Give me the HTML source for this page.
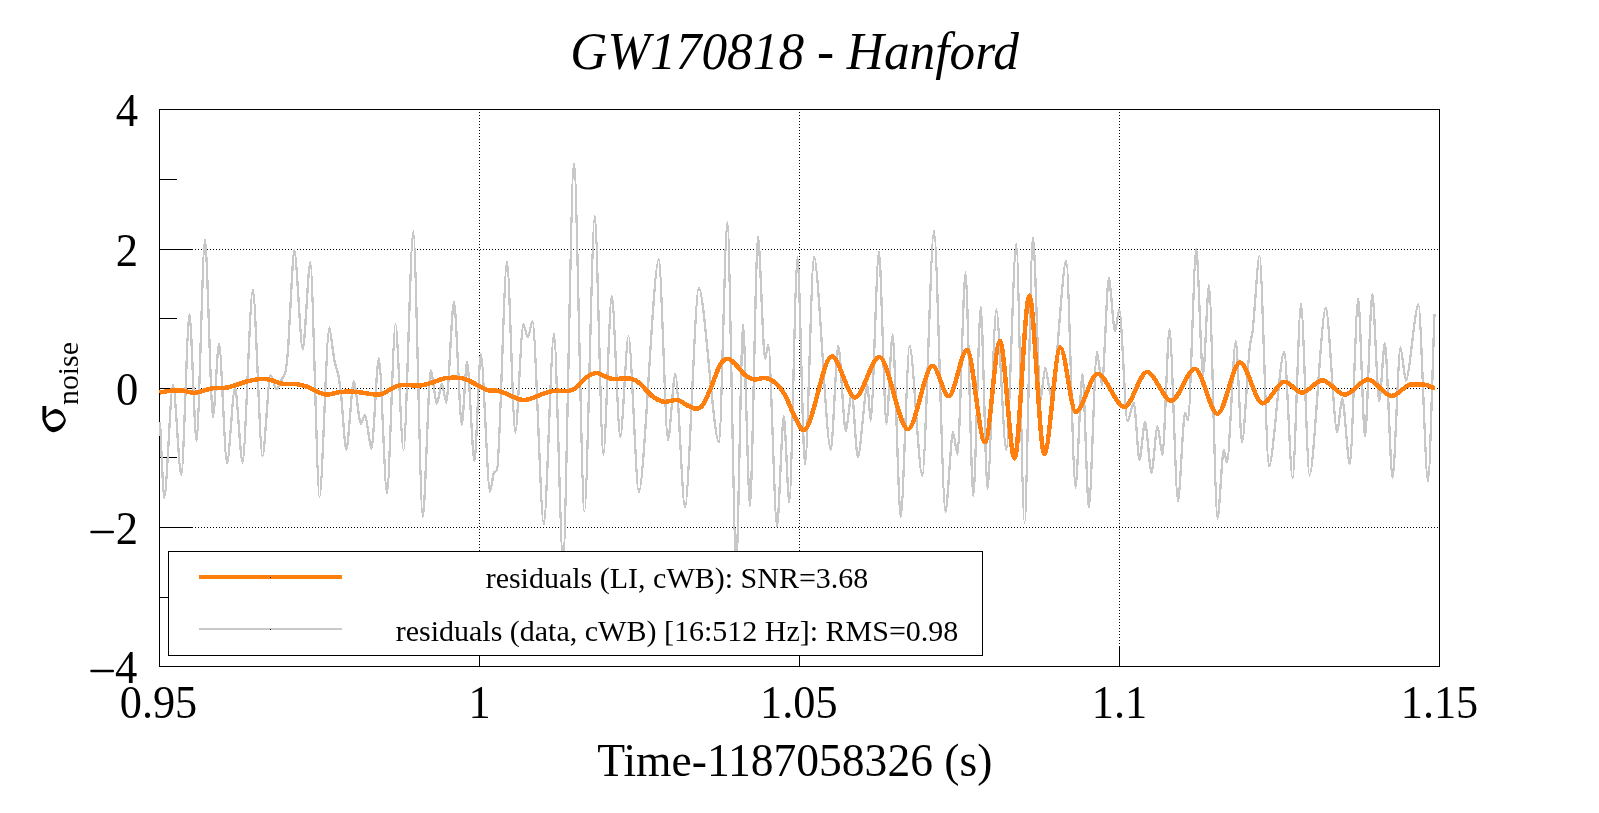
<!DOCTYPE html>
<html>
<head>
<meta charset="utf-8">
<title>GW170818 - Hanford</title>
<style>
html,body{margin:0;padding:0;background:#fff;}
body{width:1599px;height:813px;overflow:hidden;}
svg{display:block;}
text{font-family:"Liberation Serif",serif;fill:#000;}
.t{opacity:0.999;}
</style>
</head>
<body>
<svg width="1599" height="813" viewBox="0 0 1599 813">
<rect x="0" y="0" width="1599" height="813" fill="#ffffff"/>

<!-- frame + ticks -->
<g stroke="#000" stroke-width="1" fill="none" shape-rendering="crispEdges">
<rect x="159.5" y="109.5" width="1280" height="557"/>
<line x1="160" y1="249.5" x2="193" y2="249.5"/>
<line x1="160" y1="388.5" x2="193" y2="388.5"/>
<line x1="160" y1="527.5" x2="193" y2="527.5"/>
<line x1="160" y1="179.5" x2="177" y2="179.5"/>
<line x1="160" y1="318.5" x2="177" y2="318.5"/>
<line x1="160" y1="457.5" x2="177" y2="457.5"/>
<line x1="160" y1="597.5" x2="177" y2="597.5"/>
<line x1="479.5" y1="646" x2="479.5" y2="666"/>
<line x1="799.5" y1="646" x2="799.5" y2="666"/>
<line x1="1119.5" y1="646" x2="1119.5" y2="666"/>
</g>

<!-- grid -->
<g stroke="#000" stroke-width="1" stroke-dasharray="1 2" fill="none" shape-rendering="crispEdges">
<line x1="195" y1="249.5" x2="1439" y2="249.5"/>
<line x1="195" y1="388.5" x2="1439" y2="388.5"/>
<line x1="195" y1="527.5" x2="1439" y2="527.5"/>
<line x1="479.5" y1="112" x2="479.5" y2="645"/>
<line x1="799.5" y1="112" x2="799.5" y2="645"/>
<line x1="1119.5" y1="112" x2="1119.5" y2="645"/>
</g>

<!-- curves -->
<path d="M160.0 422.0C161.2 442.8 163.1 497.5 164.3 497.5C166.7 497.5 170.6 384.5 173.0 384.5C175.3 384.5 179.0 475.0 181.3 475.0C183.6 475.0 187.2 314.3 189.5 314.3C191.4 314.3 194.6 441.3 196.5 441.3C198.8 441.3 202.7 239.3 205.0 239.3C207.2 239.3 210.8 417.0 213.0 417.0C214.7 417.0 217.3 343.5 219.0 343.5C221.2 343.5 224.8 463.3 227.0 463.3C229.2 463.3 232.8 387.5 235.0 387.5C237.1 387.5 240.4 462.5 242.5 462.5C245.3 462.5 250.0 289.5 252.8 289.5C255.5 289.5 259.8 456.3 262.5 456.3C264.7 456.3 268.3 375.0 270.5 375.0C272.2 375.0 274.9 389.4 276.6 389.4C278.1 389.4 280.5 382.0 282.0 379.0C283.0 377.0 284.5 374.9 285.5 371.5C286.2 369.1 287.3 358.1 288.0 350.0C288.6 343.5 289.4 323.1 290.0 314.0C291.2 294.5 293.1 250.0 294.3 250.0C296.6 250.0 300.5 349.5 302.8 349.5C304.9 349.5 308.2 262.0 310.3 262.0C312.8 262.0 317.0 497.0 319.5 497.0C322.2 497.0 326.6 327.5 329.3 327.5C330.3 327.5 332.0 344.4 333.0 351.0C333.4 353.7 334.1 358.9 334.5 361.0C335.6 366.5 337.4 370.4 338.5 376.0C339.2 379.5 340.3 388.2 341.0 394.0C342.5 406.2 344.8 450.0 346.3 450.0C348.4 450.0 351.7 381.3 353.8 381.3C355.7 381.3 358.9 423.8 360.8 423.8C362.0 423.8 363.8 414.5 365.0 414.5C366.8 414.5 369.7 448.8 371.5 448.8C373.5 448.8 376.8 358.0 378.8 358.0C381.1 358.0 384.7 493.0 387.0 493.0C389.3 493.0 393.2 324.3 395.5 324.3C397.7 324.3 401.3 450.0 403.5 450.0C406.2 450.0 410.6 231.3 413.3 231.3C415.9 231.3 420.2 517.5 422.8 517.5C425.0 517.5 428.6 370.0 430.8 370.0C432.4 370.0 435.2 403.8 436.8 403.8C438.2 403.8 440.4 383.8 441.8 383.8C443.0 383.8 445.1 402.5 446.3 402.5C448.4 402.5 451.9 301.3 454.0 301.3C456.1 301.3 459.7 425.0 461.8 425.0C463.2 425.0 465.6 362.0 467.0 362.0C469.1 362.0 472.4 461.3 474.5 461.3C476.2 461.3 479.1 353.8 480.8 353.8C483.3 353.8 487.5 491.8 490.0 491.8C491.1 491.8 492.9 474.0 494.0 472.5C494.8 471.4 496.2 471.1 497.0 470.0C499.8 466.2 504.2 261.5 507.0 261.5C509.3 261.5 513.0 432.5 515.3 432.5C517.5 432.5 521.1 324.3 523.3 324.3C524.5 324.3 526.6 337.5 527.8 337.5C529.1 337.5 531.2 321.3 532.5 321.3C535.6 321.3 540.7 524.5 543.8 524.5C546.6 524.5 551.2 333.8 554.0 333.8C556.5 333.8 560.5 560.0 563.0 560.0C566.0 560.0 571.0 163.8 574.0 163.8C576.9 163.8 581.6 511.3 584.5 511.3C587.3 511.3 592.0 215.8 594.8 215.8C597.1 215.8 601.0 455.0 603.3 455.0C605.6 455.0 609.5 295.8 611.8 295.8C614.1 295.8 618.0 437.0 620.3 437.0C622.6 437.0 626.2 336.3 628.5 336.3C631.3 336.3 636.0 492.0 638.8 492.0C644.3 492.0 653.3 258.8 658.8 258.8C661.3 258.8 665.5 440.0 668.0 440.0C670.0 440.0 673.3 373.8 675.3 373.8C678.0 373.8 682.3 507.5 685.0 507.5C688.8 507.5 695.0 287.5 698.8 287.5C704.4 287.5 713.4 442.5 719.0 442.5C721.3 442.5 725.0 222.5 727.3 222.5C729.8 222.5 733.8 565.0 736.3 565.0C738.1 565.0 741.2 324.5 743.0 324.5C744.9 324.5 748.1 506.3 750.0 506.3C752.2 506.3 755.8 236.3 758.0 236.3C759.9 236.3 763.1 358.8 765.0 358.8C765.9 358.8 767.4 344.5 768.3 344.5C770.7 344.5 774.6 526.3 777.0 526.3C778.9 526.3 781.9 416.3 783.8 416.3C785.3 416.3 787.8 502.5 789.3 502.5C791.6 502.5 795.2 257.0 797.5 257.0C799.6 257.0 802.9 465.0 805.0 465.0C807.5 465.0 811.5 256.8 814.0 256.8C818.6 256.8 826.2 450.0 830.8 450.0C832.9 450.0 836.2 345.6 838.3 345.6C840.3 345.6 843.7 431.0 845.7 431.0C847.4 431.0 850.1 392.7 851.8 392.7C853.4 392.7 856.1 457.4 857.8 457.4C860.5 457.4 864.8 385.0 867.5 385.0C868.4 385.0 869.7 420.7 870.6 420.7C872.9 420.7 876.7 251.3 879.0 251.3C881.0 251.3 884.4 424.0 886.4 424.0C888.1 424.0 890.9 334.5 892.6 334.5C894.8 334.5 898.5 517.5 900.7 517.5C903.1 517.5 907.2 345.6 909.6 345.6C913.1 345.6 918.8 476.0 922.3 476.0C925.5 476.0 930.8 230.7 934.0 230.7C937.2 230.7 942.3 512.0 945.5 512.0C947.6 512.0 950.9 432.0 953.0 432.0C954.2 432.0 956.3 454.5 957.5 454.5C959.7 454.5 963.3 272.5 965.5 272.5C967.6 272.5 971.2 496.3 973.3 496.3C975.4 496.3 978.7 307.0 980.8 307.0C982.6 307.0 985.7 488.8 987.5 488.8C989.9 488.8 993.9 309.5 996.3 309.5C999.0 309.5 1003.5 450.0 1006.3 450.0C1009.0 450.0 1013.5 243.8 1016.3 243.8C1018.6 243.8 1022.2 522.5 1024.5 522.5C1026.8 522.5 1030.7 237.5 1033.0 237.5C1035.1 237.5 1038.4 400.0 1040.5 400.0C1041.8 400.0 1043.9 367.5 1045.2 367.5C1046.9 367.5 1049.8 398.0 1051.5 398.0C1055.6 398.0 1062.2 260.5 1066.3 260.5C1068.8 260.5 1073.0 487.5 1075.5 487.5C1077.4 487.5 1080.6 373.8 1082.5 373.8C1084.2 373.8 1087.1 507.5 1088.8 507.5C1091.1 507.5 1094.7 352.0 1097.0 352.0C1098.4 352.0 1100.6 385.0 1102.0 385.0C1103.9 385.0 1106.9 278.0 1108.8 278.0C1110.5 278.0 1113.3 331.3 1115.0 331.3C1116.2 331.3 1118.1 309.5 1119.3 309.5C1121.6 309.5 1125.2 421.3 1127.5 421.3C1129.2 421.3 1132.1 402.5 1133.8 402.5C1135.4 402.5 1137.9 460.0 1139.5 460.0C1141.0 460.0 1143.5 422.0 1145.0 422.0C1146.8 422.0 1149.7 472.5 1151.5 472.5C1153.2 472.5 1155.8 426.3 1157.5 426.3C1158.9 426.3 1161.1 455.0 1162.5 455.0C1164.4 455.0 1167.6 328.8 1169.5 328.8C1171.8 328.8 1175.7 501.3 1178.0 501.3C1179.9 501.3 1183.1 412.5 1185.0 412.5C1185.8 412.5 1187.2 420.0 1188.0 420.0C1190.3 420.0 1194.0 248.8 1196.3 248.8C1198.1 248.8 1201.2 375.0 1203.0 375.0C1204.7 375.0 1207.3 285.0 1209.0 285.0C1211.3 285.0 1215.2 518.8 1217.5 518.8C1219.2 518.8 1222.1 450.0 1223.8 450.0C1224.7 450.0 1226.1 462.5 1227.0 462.5C1229.4 462.5 1233.4 341.3 1235.8 341.3C1237.5 341.3 1240.3 442.0 1242.0 442.0C1244.2 442.0 1247.8 360.0 1250.0 345.0C1250.7 340.3 1251.8 336.6 1252.5 332.0C1254.4 319.2 1257.6 255.9 1259.5 255.9C1262.1 255.9 1266.4 466.4 1269.0 466.4C1273.2 466.4 1280.0 351.5 1284.2 351.5C1286.5 351.5 1290.3 478.3 1292.6 478.3C1294.9 478.3 1298.7 304.0 1301.0 304.0C1303.3 304.0 1307.2 475.5 1309.5 475.5C1314.0 475.5 1321.3 307.8 1325.8 307.8C1328.9 307.8 1334.1 432.0 1337.2 432.0C1338.6 432.0 1340.8 398.0 1342.2 398.0C1344.3 398.0 1347.7 464.5 1349.8 464.5C1352.1 464.5 1355.9 298.6 1358.2 298.6C1360.1 298.6 1363.1 436.7 1365.0 436.7C1367.0 436.7 1370.3 294.0 1372.3 294.0C1374.2 294.0 1377.3 401.6 1379.2 401.6C1380.8 401.6 1383.3 342.9 1384.9 342.9C1387.0 342.9 1390.4 477.8 1392.5 477.8C1394.7 477.8 1398.3 347.4 1400.5 347.4C1402.0 347.4 1404.4 380.6 1405.9 380.6C1409.3 380.6 1415.0 304.4 1418.4 304.4C1421.0 304.4 1425.4 481.7 1428.0 481.7C1429.8 481.7 1432.7 360.1 1434.5 314.0" fill="none" stroke="#c8c8c8" stroke-width="2.3" stroke-linejoin="round" shape-rendering="crispEdges"/>
<path d="M159.5 392.5C161.8 392.2 169.2 390.8 173.0 390.5C176.8 390.2 178.8 390.1 182.5 390.5C186.2 390.9 190.0 393.2 195.0 392.8C200.0 392.4 207.1 389.2 212.5 388.3C217.9 387.4 221.7 388.7 227.5 387.5C233.3 386.3 241.7 382.8 247.5 381.3C253.3 379.9 258.3 378.9 262.5 378.8C266.7 378.7 269.2 379.7 272.5 380.5C275.8 381.3 278.3 383.2 282.5 383.8C286.7 384.4 293.3 383.8 297.5 384.3C301.7 384.8 302.9 385.1 307.5 386.8C312.1 388.5 319.6 393.6 325.0 394.5C330.4 395.4 335.0 392.4 340.0 392.0C345.0 391.6 349.2 391.4 355.0 391.8C360.8 392.2 370.4 394.2 375.0 394.5C379.6 394.8 378.5 395.3 382.5 393.8C386.5 392.3 392.6 386.9 398.8 385.5C405.1 384.1 414.4 386.0 420.0 385.5C425.6 385.0 428.3 383.7 432.5 382.5C436.7 381.3 440.0 379.0 445.0 378.3C450.0 377.6 457.9 377.6 462.5 378.3C467.1 379.0 468.3 380.6 472.5 382.5C476.7 384.4 482.9 388.5 487.5 390.0C492.1 391.5 494.6 389.7 500.0 391.3C505.4 392.9 515.0 398.2 520.0 399.5C525.0 400.8 525.8 399.9 530.0 398.8C534.2 397.7 540.8 394.3 545.0 393.0C549.2 391.7 551.0 391.2 555.0 390.8C559.0 390.4 565.2 391.4 568.8 390.8C572.3 390.2 573.4 389.7 576.3 387.5C579.2 385.3 583.0 379.9 586.3 377.5C589.6 375.1 593.2 373.2 596.3 373.0C599.4 372.8 602.3 375.3 605.0 376.3C607.7 377.3 608.1 378.4 612.5 378.8C616.9 379.2 626.7 378.0 631.3 378.8C635.9 379.6 636.5 380.9 640.0 383.8C643.5 386.7 648.5 393.3 652.5 396.3C656.5 399.3 659.6 401.2 663.8 401.8C668.0 402.4 673.5 399.4 677.5 400.0C681.5 400.6 684.4 404.0 687.5 405.5C690.6 407.0 693.8 408.8 696.3 408.8C698.8 408.8 700.2 408.6 702.5 405.5C704.8 402.4 707.1 396.8 710.0 390.0C712.9 383.2 717.1 370.2 720.0 365.0C722.9 359.8 725.0 359.0 727.5 358.8C730.0 358.6 732.1 361.1 735.0 363.8C737.9 366.5 741.9 372.4 745.0 375.0C748.1 377.6 750.5 379.0 753.8 379.5C757.1 380.0 761.5 377.5 765.0 378.0C768.5 378.5 771.7 379.7 775.0 382.5C778.3 385.3 781.7 389.2 785.0 395.0C788.3 400.8 791.9 411.7 795.0 417.5C798.1 423.3 800.9 430.0 803.8 430.0C812.8 430.0 822.8 356.3 831.8 356.3C839.2 356.3 847.6 397.5 855.0 397.5C862.8 397.5 871.5 357.0 879.3 357.0C888.5 357.0 898.8 429.3 908.0 429.3C915.8 429.3 924.7 365.8 932.5 365.8C937.7 365.8 943.6 396.3 948.8 396.3C954.6 396.3 961.2 350.0 967.0 350.0C972.8 350.0 979.2 442.3 985.0 442.3C989.8 442.3 995.2 341.0 1000.0 341.0C1004.6 341.0 1009.9 458.5 1014.5 458.5C1019.2 458.5 1024.6 295.5 1029.3 295.5C1034.1 295.5 1039.5 453.8 1044.3 453.8C1049.4 453.8 1055.2 347.5 1060.3 347.5C1065.3 347.5 1070.8 412.0 1075.8 412.0C1082.7 412.0 1090.6 373.8 1097.5 373.8C1106.1 373.8 1115.9 407.0 1124.5 407.0C1131.7 407.0 1139.8 372.0 1147.0 372.0C1154.8 372.0 1163.5 400.8 1171.3 400.8C1178.9 400.8 1187.4 368.8 1195.0 368.8C1202.2 368.8 1210.3 413.8 1217.5 413.8C1224.7 413.8 1232.8 362.5 1240.0 362.5C1247.2 362.5 1255.3 403.4 1262.5 403.4C1269.5 403.4 1277.5 381.8 1284.5 381.8C1290.1 381.8 1296.4 392.6 1302.0 392.6C1308.5 392.6 1315.8 380.3 1322.3 380.3C1329.5 380.3 1337.7 394.7 1344.9 394.7C1352.2 394.7 1360.4 379.5 1367.7 379.5C1375.4 379.5 1384.1 395.9 1391.8 395.9C1398.1 395.9 1405.2 384.3 1411.5 384.3C1415.5 384.3 1420.0 384.5 1424.0 384.5C1427.4 384.5 1431.1 387.9 1434.5 387.9" fill="none" stroke="#ff7f0e" stroke-width="4.5" stroke-linejoin="round" stroke-linecap="butt" shape-rendering="crispEdges"/>

<!-- legend -->
<g shape-rendering="crispEdges">
<rect x="168.5" y="551.5" width="814" height="104" fill="#fff" stroke="#000" stroke-width="1"/>
<line x1="199" y1="577" x2="342" y2="577" stroke="#ff7f0e" stroke-width="4"/>
<line x1="199" y1="629" x2="342" y2="629" stroke="#c9c9c9" stroke-width="2"/>
</g>
<g class="t">
<text x="677" y="588.4" font-size="30" text-anchor="middle">residuals (LI, cWB): SNR=3.68</text>
<text x="677" y="640.9" font-size="30" text-anchor="middle">residuals (data, cWB) [16:512 Hz]: RMS=0.98</text>
<!-- legend centre dots -->
<rect x="270" y="577" width="1" height="1" fill="#000"/>
<rect x="270" y="629" width="1" height="1" fill="#000"/>

<!-- title -->
<text transform="translate(794.6,68.6) scale(0.987,1)" font-size="52" font-style="italic" text-anchor="middle">GW170818 - Hanford</text>

<!-- y tick labels -->
<g font-size="46.5" text-anchor="end">
<text transform="translate(138,126) scale(0.96,1)">4</text>
<text transform="translate(138,266) scale(0.96,1)">2</text>
<text transform="translate(138.4,405) scale(0.96,1)">0</text>
<text transform="translate(138,544) scale(0.96,1)">2</text>
<rect x="90.3" y="530.7" width="23.7" height="2.6" rx="1" fill="#000"/>
<text transform="translate(137.3,683) scale(0.96,1)">4</text>
<rect x="90.3" y="669.7" width="23.7" height="2.6" rx="1" fill="#000"/>
</g>

<!-- x tick labels -->
<g font-size="46.8" text-anchor="middle">
<text transform="translate(158.5,717.7) scale(0.947,1)">0.95</text>
<text transform="translate(479.5,717.7) scale(0.947,1)">1</text>
<text transform="translate(798.8,717.7) scale(0.947,1)">1.05</text>
<text transform="translate(1119.5,717.7) scale(0.947,1)">1.1</text>
<text transform="translate(1439.5,717.7) scale(0.947,1)">1.15</text>
</g>

<!-- axis titles -->
<text transform="translate(794.8,775.8) scale(0.965,1)" font-size="47.2" text-anchor="middle">Time-1187058326 (s)</text>
<path d="M42.4 406.1H46.3V416.2C47.0 415.4 48.9 412.8 50.5 411.6C52.1 410.4 53.9 408.9 55.7 408.9C57.6 408.9 60.1 410.3 61.6 411.8C63.1 413.3 64.3 416.3 65.0 417.7C65.7 419.1 65.8 419.1 65.8 420.1C65.8 421.1 65.7 422.2 65.0 423.6C64.3 425.0 63.1 427.1 61.6 428.5C60.1 429.9 57.3 431.1 55.7 431.7C54.1 432.3 53.4 432.2 52.2 431.9C51.0 431.6 49.5 431.1 48.3 430.0C47.1 428.9 45.8 427.1 44.9 425.6C44.0 424.1 43.3 422.2 42.9 421.1C42.5 420.0 42.5 419.1 42.4 418.7L42.4 406.1ZM46.10 417.70C46.93 416.92 49.20 415.18 50.80 414.50C52.40 413.82 54.23 413.60 55.70 413.60C57.17 413.60 58.42 413.90 59.60 414.50C60.78 415.10 62.12 416.35 62.80 417.20C63.48 418.05 63.70 418.78 63.70 419.60C63.70 420.42 63.48 421.15 62.80 422.10C62.12 423.05 60.78 424.52 59.60 425.30C58.42 426.08 57.02 426.52 55.70 426.80C54.38 427.08 52.85 427.20 51.70 427.00C50.55 426.80 49.65 426.42 48.80 425.60C47.95 424.78 47.10 423.17 46.60 422.10C46.10 421.03 45.88 419.93 45.80 419.20C45.72 418.47 45.27 418.48 46.10 417.70Z" fill="#000" fill-rule="evenodd"/>
<g transform="translate(66,433.5) rotate(-90)">
<text transform="translate(28.5,11.9) scale(0.985,1)" font-size="30.3">noise</text>
</g>
</g>
</svg>
</body>
</html>
